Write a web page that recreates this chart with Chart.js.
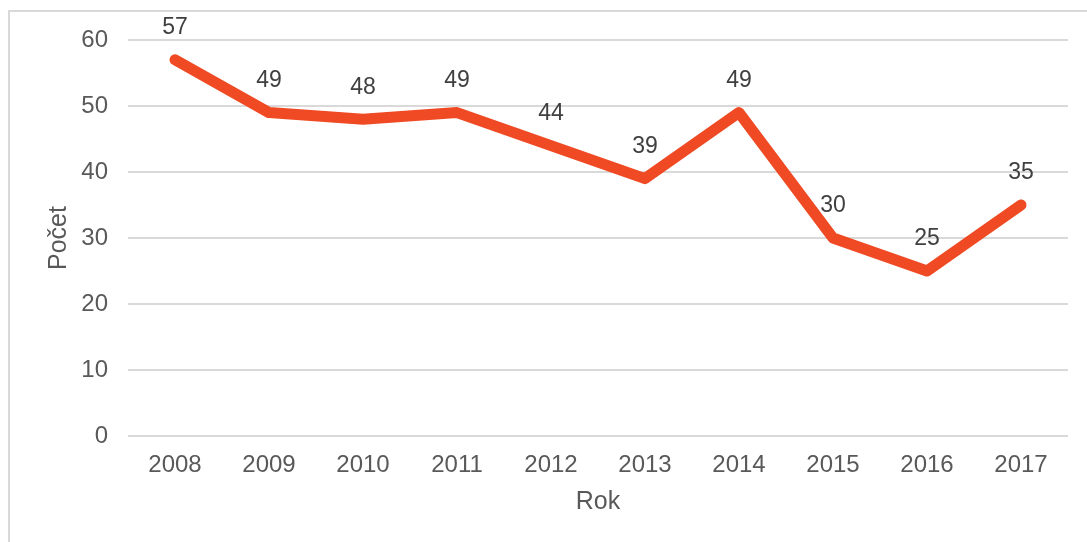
<!DOCTYPE html>
<html>
<head>
<meta charset="utf-8">
<script src="https://cdn.jsdelivr.net/npm/chart.js@4"></script>
<style>
  html, body { margin: 0; padding: 0; background: #fff; }
  #wrap { position: relative; width: 1087px; height: 542px; }
  #frame { position: absolute; left: 8px; top: 10px; width: 1100px; height: 600px; border: 2px solid #d9d9d9; box-sizing: border-box; }
  canvas { position: absolute; left: 0; top: 0; }
</style>
</head>
<body>
<div id="wrap">
  <div id="frame"></div>
  <canvas id="lineChart" width="1087" height="542"></canvas>
</div>
<script>
const years = ['2008', '2009', '2010', '2011', '2012', '2013', '2014', '2015', '2016', '2017'];
const counts = [57, 49, 48, 49, 44, 39, 49, 30, 25, 35];
const yTicks = [0, 10, 20, 30, 40, 50, 60];

const fontFamily = '"Liberation Sans", Arial, sans-serif';

// draw the value above every point
const valueLabels = {
    id: 'valueLabels',
    afterDatasetsDraw(chart) {
        const c = chart.ctx;
        const meta = chart.getDatasetMeta(0);
        c.save();
        c.font = '23px ' + fontFamily;
        c.fillStyle = '#404040';
        c.textAlign = 'center';
        c.textBaseline = 'middle';
        meta.data.forEach((pt, i) => {
            c.fillText(String(counts[i]), pt.x, pt.y - 32);
        });
        c.restore();
    }
};

const ctx = document.getElementById('lineChart');
new Chart(ctx, {
    type: 'line',
    data: {
        labels: years,
        datasets: [{
            label: 'Počet',
            data: counts,
            borderColor: '#EF4A24',
            borderWidth: 11,
            borderCapStyle: 'round',
            borderJoinStyle: 'round',
            pointRadius: 0,
            tension: 0,
            fill: false
        }]
    },
    options: {
        responsive: false,
        animation: false,
        layout: {
            padding: { left: 44, top: 40, right: 19, bottom: 25 }
        },
        plugins: {
            legend: { display: false },
            tooltip: { enabled: false }
        },
        scales: {
            x: {
                offset: true,
                grid: { display: false, drawTicks: false },
                border: { display: false },
                ticks: {
                    padding: 15,
                    color: '#595959',
                    font: { family: fontFamily, size: 24 }
                },
                title: {
                    display: true,
                    text: 'Rok',
                    color: '#595959',
                    padding: 0,
                    font: { family: fontFamily, size: 25 }
                },
                afterFit(scale) { scale.height = 81; }
            },
            y: {
                min: 0,
                max: 60,
                grid: { color: '#d9d9d9', lineWidth: 2, drawTicks: false },
                border: { display: false },
                afterBuildTicks(scale) {
                    scale.ticks = yTicks.map(v => ({ value: v }));
                },
                ticks: {
                    padding: 20,
                    color: '#595959',
                    font: { family: fontFamily, size: 24 }
                },
                title: {
                    display: true,
                    text: 'Počet',
                    color: '#595959',
                    padding: 0,
                    font: { family: fontFamily, size: 25 }
                },
                afterFit(scale) { scale.width = 84; }
            }
        }
    },
    plugins: [valueLabels]
});
</script>
</body>
</html>
